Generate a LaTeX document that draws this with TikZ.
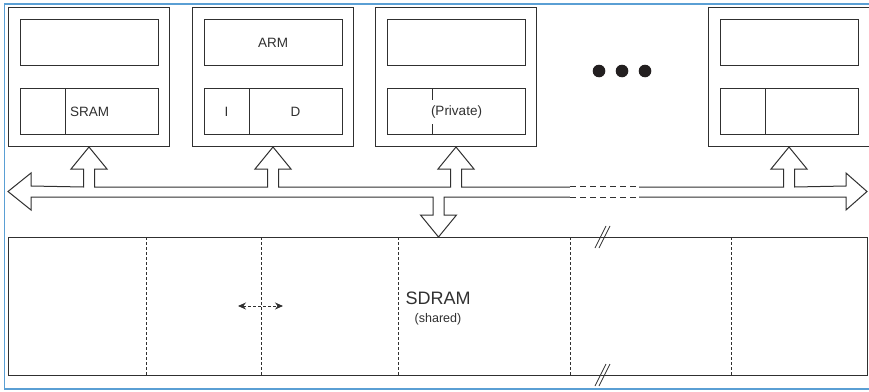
\documentclass[tikz,border=0pt]{standalone}
\usepackage{fontspec}
\setmainfont{Liberation Sans}
\usetikzlibrary{arrows.meta,calc}
\definecolor{ink}{HTML}{303030}
\definecolor{dotink}{HTML}{231F20}
\definecolor{frameblue}{HTML}{5A9FD4}
\begin{document}
\begin{tikzpicture}[x=1pt,y=-1pt,line width=1pt,
  box/.style={draw=ink,rectangle,inner sep=0pt,anchor=north west},
  lbl/.style={font=\fontsize{13.5}{15}\selectfont,text=ink,inner sep=0pt},
  sep/.style={draw=ink,line width=0.8pt,dash pattern=on 3pt off 2pt},
  % block arrow from the bus top edge up to a processor (tip at #1)
  uparrow/.style={insert path={-- ($(#1)+(-5.5,40)$) -- ++(0,-18) -- ++(-12.5,0)
      -- (#1) -- ($(#1)+(18,22)$) -- ++(-12.5,0) -- ++(0,18)}},
  % block arrow from the bus bottom edge down to memory (tip at #1)
  downarrow/.style={insert path={-- ($(#1)+(5.5,-40)$) -- ++(0,18) -- ++(12.5,0)
      -- (#1) -- ($(#1)+(-18,-22)$) -- ++(12.5,0) -- ++(0,-18)}}
]
\useasboundingbox (0,0) rectangle (869,391);
\fill[white] (0,0) rectangle (869,391);

% outer frame
\draw[frameblue,line width=1.5pt] (869,4) -- (4.5,4) -- (4.5,389) -- (869,389);

% processor tiles: outer box, core box, cache box
\foreach \i/\x in {1/8,2/192,3/375,4/708} {
  \node[box,minimum width=161pt,minimum height=139pt] (p\i) at (\x,7) {};
  \node[box,minimum width=138pt,minimum height=46pt] (c\i) at ($(p\i.north west)+(11.5,12)$) {};
  \node[box,minimum width=138pt,minimum height=46pt] (m\i) at ($(p\i.north west)+(11.5,81)$) {};
}
\foreach \i in {1,2,4}
  \draw[ink] ($(m\i.north west)+(46,0)$) -- ($(m\i.south west)+(46,0)$);
\draw[ink] ($(m3.north west)+(46,0)$) -- ++(0,12);
\draw[ink] ($(m3.south west)+(46,0)$) -- ++(0,-11);

\node[lbl,anchor=west] at ($(m1.west)+(50,0)$) {SRAM};
\node[lbl] at (c2.center) {ARM};
\node[lbl] at ($(m2.west)+(23,0)$) {I};
\node[lbl] at ($(m2.west)+(92,0)$) {D};
\node[lbl] at ($(m3.west)+(70,1)$) {(Private)};

% ellipsis between tiles
\foreach \x in {599,622,645}
  \fill[dotink] (\x,71) circle (6.3);

% shared memory
\node[box,minimum width=859pt,minimum height=138pt] (sd) at (8,237) {};
\coordinate (dn) at ($(sd.north west)+(430.5,0)$);
\foreach \x in {146,261,398,570,731}
  \draw[sep] ($(sd.north west)+(\x-8,0)$) -- ($(sd.south west)+(\x-8,0)$);
\node[text=ink,font=\fontsize{18}{20}\selectfont,inner sep=0pt] at ($(sd.center)+(0,-8)$) {SDRAM};
\node[text=ink,font=\fontsize{12.5}{14}\selectfont,inner sep=0pt] at ($(sd.center)+(0,13)$) {(shared)};
\draw[ink,line width=0.9pt,dash pattern=on 3pt off 2pt,
      {Stealth[length=8pt,width=7pt]}-{Stealth[length=8pt,width=7pt]}]
  (238,306) -- (283,306);

% break marks on the memory edges
\foreach \y in {237,375} {
  \draw[ink,line width=0.8pt] (595,\y+11) -- (606,\y-11);
  \draw[ink,line width=0.8pt] (599,\y+11) -- (610,\y-11);
}

% shared bus with its block arrows
\draw[ink,fill=white] (8,191.5) -- ++(23,-18.5) -- ++(0,13)
  [uparrow=p1.south] [uparrow=p2.south] [uparrow=p3.south] [uparrow=p4.south]
  -- (846,186) -- ++(0,-13) -- (867,191.5) -- (846,210) -- ++(0,-13)
  [downarrow=dn] -- (31,197) -- ++(0,13) -- cycle;
\fill[white] (570,184) rectangle (639,199);
\draw[ink,dash pattern=on 6pt off 4pt] (570,186) -- (639,186);
\draw[ink,dash pattern=on 6pt off 4pt] (570,197) -- (639,197);
\end{tikzpicture}
\end{document}
